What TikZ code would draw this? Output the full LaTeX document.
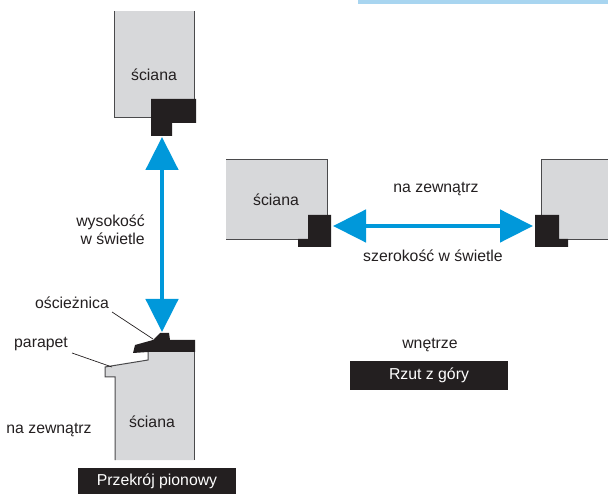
\documentclass[tikz,border=0pt]{standalone}
\usepackage{fontspec}
\setmainfont{Liberation Sans}
\usetikzlibrary{arrows.meta}
\definecolor{wallgray}{HTML}{D7D8DA}
\definecolor{wallline}{HTML}{4A4A4C}
\definecolor{framedark}{HTML}{231F20}
\definecolor{arrowblue}{HTML}{0098DA}
\definecolor{bandblue}{HTML}{A8D5F0}
\tikzset{
  wallfill/.style={fill=wallgray},
  walledge/.style={draw=wallline, line width=1pt},
  framepart/.style={fill=framedark},
  span/.style={draw=arrowblue, line width=4.7pt, {Triangle[width=32pt,length=33pt]}-{Triangle[width=32pt,length=33pt]}},
  leader/.style={draw=framedark, line width=0.7pt},
  label/.style={font=\fontsize{15.8}{17.7}\selectfont, text=framedark, inner sep=0pt, align=center},
  titlebar/.style={fill=framedark, text=white, font=\fontsize{15.8}{18}\selectfont, inner sep=0pt, minimum width=158pt}
}
\begin{document}
\begin{tikzpicture}[x=1pt, y=-1pt]
  \useasboundingbox (0, 0) rectangle (608, 494);
  \fill[bandblue] (358, 0) rectangle (608, 4);
  % vertical section, lintel
  \fill[wallfill] (114, 11) rectangle (194, 118);
  \draw[walledge] (114, 11) to (114, 118) to (160, 118);
  \draw[walledge] (194, 11) to (194, 100);
  \fill[framepart] (151, 99) -- (196, 99) -- (196, 123) -- (172, 123) -- (172, 136) -- (151, 136) -- cycle;
  % vertical section, sill
  \fill[wallfill] (148, 352) -- (194, 352) -- (194, 460) -- (115, 460) -- (115, 377) -- (105, 377) -- (105, 367) -- (148, 360) -- cycle;
  \draw[walledge] (148, 352) -- (148, 360) -- (105, 367) -- (105, 377) -- (115, 377) -- (115, 460);
  \draw[walledge] (194, 352) -- (194, 460);
  \fill[framepart] (133, 353) -- (135, 345) -- (153, 340) -- (160, 333) -- (169, 333) -- (170, 340) -- (195, 340) -- (195, 352) -- (148, 352) -- cycle;
  % plan, left jamb
  \fill[wallfill] (226, 159.5) rectangle (327, 239.5);
  \draw[walledge] (226, 159.5) to (327, 159.5) to (327, 216);
  \draw[walledge] (226, 239.5) to (300, 239.5);
  \fill[framepart] (308, 215) -- (331, 215) -- (331, 247) -- (298, 247) -- (298, 239) -- (308, 239) -- cycle;
  % plan, right jamb
  \fill[wallfill] (541, 159.5) rectangle (608, 239.5);
  \draw[walledge] (608, 159.5) to (541, 159.5) to (541, 216);
  \draw[walledge] (608, 239.5) to (565, 239.5);
  \fill[framepart] (535, 215) -- (559, 215) -- (559, 239) -- (568, 239) -- (568, 247) -- (535, 247) -- cycle;

  \coordinate (headtop) at (162, 137);
  \coordinate (headsill) at (162, 332);
  \coordinate (jambleft) at (333, 226);
  \coordinate (jambright) at (533, 226);
  \coordinate (frametip) at (153, 339);
  \coordinate (frametail) at (112, 312);
  \coordinate (silltip) at (112, 367);
  \coordinate (silltail) at (72, 353);
  \draw[span] (headtop) to (headsill);
  \draw[span] (jambleft) to (jambright);
  \draw[leader] (frametail) to (frametip);
  \draw[leader] (silltail) to (silltip);

  \node[label] (wall1) at (154, 75) {ściana};
  \node[label] (wall2) at (152, 422) {ściana};
  \node[label] (wall3) at (276, 200) {ściana};
  \node[label, align=right, anchor=east] (height) at (145, 230) {wysokość\\w świetle};
  \node[label] (frame) at (72, 303) {ościeżnica};
  \node[label] (sill) at (41, 344) {parapet};
  \node[label] (out1) at (49, 430) {na zewnątrz};
  \node[label] (out2) at (436, 189) {na zewnątrz};
  \node[label] (width) at (433, 256) {szerokość w świetle};
  \node[label] (inside) at (430, 345) {wnętrze};
  \node[titlebar, minimum height=26pt] (title1) at (157, 481) {Przekrój pionowy};
  \node[titlebar, minimum height=29pt] (title2) at (429, 375.5) {Rzut z góry};
\end{tikzpicture}
\end{document}
